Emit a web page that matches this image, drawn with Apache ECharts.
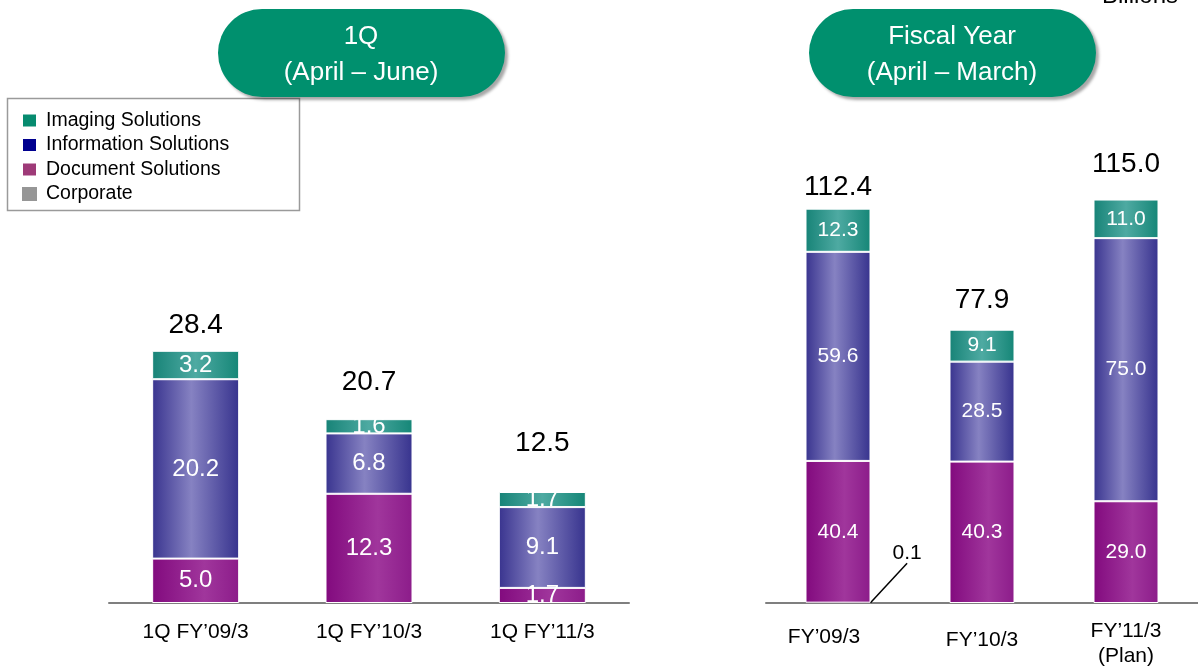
<!DOCTYPE html>
<html>
<head>
<meta charset="utf-8">
<script src="https://cdn.jsdelivr.net/npm/echarts@6/dist/echarts.min.js"></script>
<style>
  html, body { margin: 0; padding: 0; background: #fff; }
  #main { width: 1198px; height: 671px; }
</style>
</head>
<body>
<div id="main"></div>
<script>
// quarterly (left panel)
const qCategories = ['1Q FY’09/3', '1Q FY’10/3', '1Q FY’11/3']
const qCorporate = [0, 0, 0]
const qDocument = [5.0, 12.3, 1.7]
const qInformation = [20.2, 6.8, 9.1]
const qImaging = [3.2, 1.6, 1.7]
const qTotals = [28.4, 20.7, 12.5]

// fiscal year (right panel)
const fyCategories = ['FY’09/3', 'FY’10/3', 'FY’11/3\n(Plan)']
const fyCorporate = [0.1, 0, 0]
const fyDocument = [40.4, 40.3, 29.0]
const fyInformation = [59.6, 28.5, 75.0]
const fyImaging = [12.3, 9.1, 11.0]
const fyTotals = [112.4, 77.9, 115.0]

const FONT = 'Liberation Sans, Arial, sans-serif'

// gap between stack top and total label (as in the slide, not uniform)
const qTotalGap = [12, 23, 35]
const fyTotalGap = [7, 15, 21]
// label padding of the fiscal year category labels [top, right, bottom, left]
const fyLabelPad = [[6, 28, 0, 0], [9, 0, 0, 0], [0, 0, 0, 0]]

const grad = (stops) => new echarts.graphic.LinearGradient(0, 0, 1, 0,
  stops.map(s => ({ offset: s[0], color: s[1] })))

const docColor = grad([[0, '#820a7e'], [0.6, '#a0369c'], [1, '#8c1c8a']])
const infoColor = grad([[0, '#39348f'], [0.45, '#8682c2'], [1, '#37338e']])
const imgColor = grad([[0, '#178377'], [0.5, '#4eaaa2'], [1, '#158677']])

// builds the stacked series for one panel
const makeSeries = (idx, corp, doc, info, img, totals, gaps, barWidth, segFont) => {
  const stack = 'p' + idx
  const common = {
    type: 'bar',
    stack: stack,
    xAxisIndex: idx,
    yAxisIndex: idx,
    barWidth: barWidth,
    itemStyle: { borderColor: '#fff', borderWidth: 1 }
  }
  const segLabel = {
    show: true,
    position: 'inside',
    color: '#fff',
    fontSize: segFont,
    fontFamily: FONT,
    formatter: p => p.value.toFixed(1)
  }
  return [
    {
      ...common,
      name: 'Corporate',
      data: corp.map(v => v > 0 ? {
        value: v,
        label: {
          show: true,
          position: 'right',
          color: '#000',
          fontSize: 21,
          fontFamily: FONT,
          formatter: p => p.value.toFixed(1)
        },
        labelLine: { show: true, lineStyle: { color: '#000', width: 1.5 } }
      } : v),
      itemStyle: { color: '#969696', borderWidth: 0 },
      labelLayout: { dx: 17, dy: -50 }
    },
    { ...common, name: 'Document Solutions', data: doc, itemStyle: { ...common.itemStyle, color: docColor }, label: segLabel },
    { ...common, name: 'Information Solutions', data: info, itemStyle: { ...common.itemStyle, color: infoColor }, label: segLabel },
    { ...common, name: 'Imaging Solutions', data: img, itemStyle: { ...common.itemStyle, color: imgColor }, label: segLabel },
    {
      ...common,
      name: 'Total',
      data: totals.map((t, i) => ({ value: 0, label: { distance: gaps[i] } })),
      itemStyle: { color: 'transparent', borderWidth: 0 },
      label: {
        show: true,
        position: 'top',
        color: '#000',
        fontSize: 28,
        fontFamily: FONT,
        formatter: p => totals[p.dataIndex].toFixed(1)
      }
    }
  ]
}

const xAxisBase = {
  type: 'category',
  axisTick: { show: false },
  axisLine: { lineStyle: { color: '#7f7f7f', width: 2 } },
  axisLabel: { color: '#000', fontSize: 21, fontFamily: FONT, margin: 17, lineHeight: 25 }
}

const pill = (cx, line1, line2) => ({
  type: 'group',
  children: [
    {
      type: 'rect',
      shape: { x: cx - 143, y: 9, width: 287, height: 88, r: 44 },
      style: { fill: '#00906e', shadowColor: 'rgba(0,0,0,0.35)', shadowOffsetX: 3, shadowOffsetY: 3, shadowBlur: 3 }
    },
    {
      type: 'text',
      style: { x: cx, y: 37, text: line1, fill: '#fff', font: '26px ' + FONT, align: 'center', verticalAlign: 'middle' }
    },
    {
      type: 'text',
      style: { x: cx, y: 73, text: line2, fill: '#fff', font: '26px ' + FONT, align: 'center', verticalAlign: 'middle' }
    }
  ]
})

const chart = echarts.init(document.getElementById('main'))

const option = {
  animation: false,
  textStyle: { fontFamily: FONT },
  grid: [
    { left: 109, width: 520, top: 336.6, bottom: 68 },
    { left: 766, width: 436.5, top: 182, bottom: 68 }
  ],
  xAxis: [
    { ...xAxisBase, gridIndex: 0, data: qCategories },
    {
      ...xAxisBase,
      gridIndex: 1,
      data: fyCategories.map((c, i) => ({ value: c, textStyle: { padding: fyLabelPad[i] } })),
      axisLabel: { ...xAxisBase.axisLabel, margin: 15.5 }
    }
  ],
  yAxis: [
    { type: 'value', gridIndex: 0, min: 0, max: 30, show: false },
    { type: 'value', gridIndex: 1, min: 0, max: 120, show: false }
  ],
  legend: {
    orient: 'vertical',
    left: 21,
    top: 110.5,
    padding: 0,
    z: 5,
    icon: 'rect',
    itemWidth: 15,
    itemHeight: 14,
    itemGap: 4.5,
    selectedMode: false,
    textStyle: { fontSize: 19.5, color: '#000', fontFamily: FONT, padding: [0, 0, 0, 4] },
    data: [
      { name: 'Imaging Solutions', itemStyle: { color: '#068b6f' } },
      { name: 'Information Solutions', itemStyle: { color: '#00008f' } },
      { name: 'Document Solutions', itemStyle: { color: '#9e3a78' } },
      { name: 'Corporate', itemStyle: { color: '#969696' } }
    ]
  },
  graphic: [
    {
      type: 'rect',
      z: 0,
      shape: { x: 7.5, y: 98.5, width: 292, height: 112 },
      style: { fill: '#fff', stroke: '#9a9a9a', lineWidth: 1.5 }
    },
    pill(361, '1Q', '(April – June)'),
    pill(952, 'Fiscal Year', '(April – March)'),
    {
      type: 'text',
      style: { x: 1102, y: 8, text: 'Billions', fill: '#000', font: '24px ' + FONT, verticalAlign: 'bottom' }
    }
  ],
  series: [
    ...makeSeries(0, qCorporate, qDocument, qInformation, qImaging, qTotals, qTotalGap, 87, 24),
    ...makeSeries(1, fyCorporate, fyDocument, fyInformation, fyImaging, fyTotals, fyTotalGap, 65, 21)
  ]
}

chart.setOption(option)
</script>
</body>
</html>
